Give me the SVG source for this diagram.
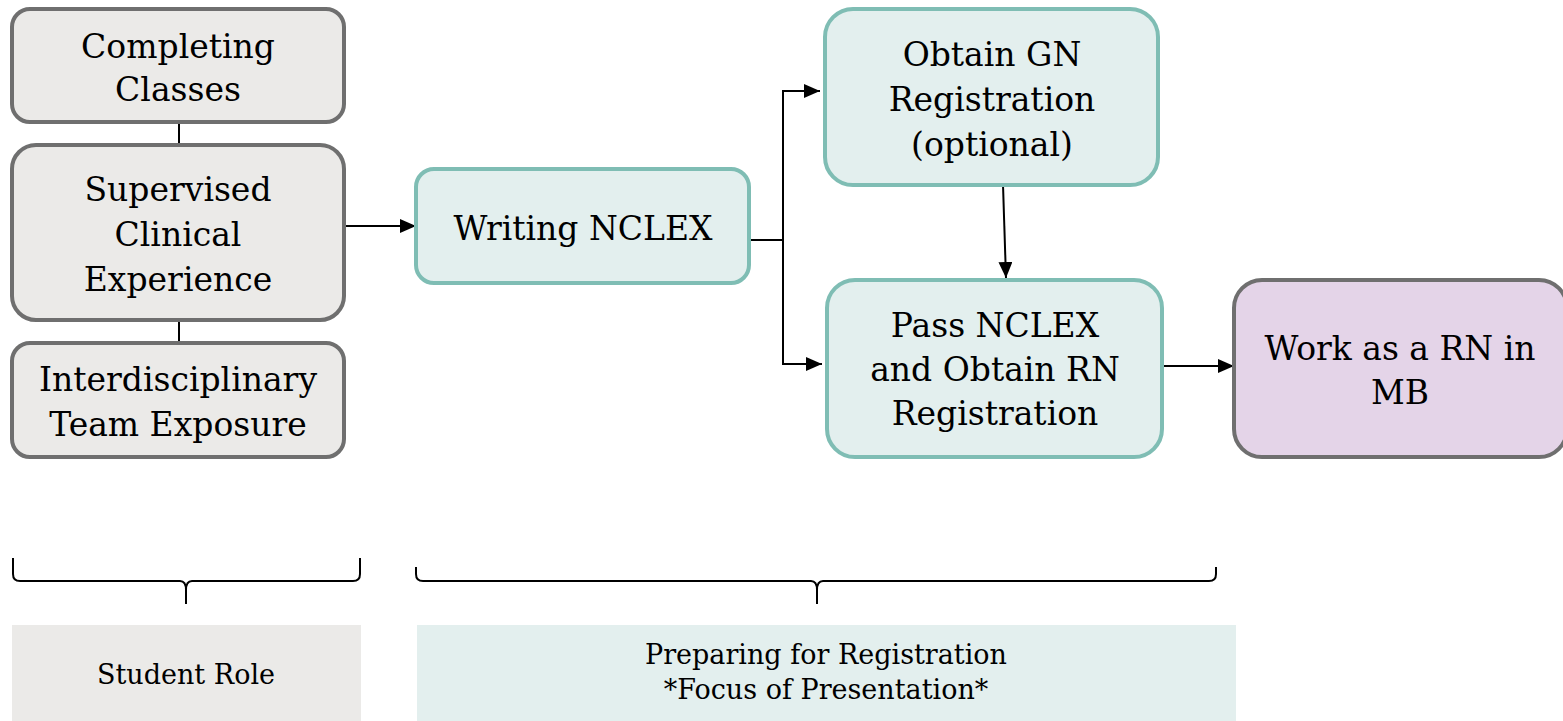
<svg xmlns="http://www.w3.org/2000/svg" width="1563" height="721" viewBox="0 0 1563 721">
<style>
.g rect{fill:#ebeae8;stroke:#6f6f6f;stroke-width:4}
.t rect{fill:#e3efee;stroke:#7fbdb4;stroke-width:4}
.p rect{fill:#e4d4e8;stroke:#6f6f6f;stroke-width:4}
text{font-family:"DejaVu Serif","Liberation Serif",serif;font-size:33px;fill:#000;text-anchor:middle}
.s text{font-size:27px}
.c{stroke:#000;stroke-width:2;fill:none}
</style>
<defs>
<marker id="a" viewBox="0 0 10 10" refX="10" refY="5" markerWidth="8" markerHeight="7" markerUnits="strokeWidth" orient="auto" preserveAspectRatio="none">
<path d="M0,0 L10,5 L0,10 Z" fill="#000"/>
</marker>
</defs>
<rect width="1563" height="721" fill="#fff"/>
<g id="connectors">
<line class="c" x1="179" y1="122" x2="179" y2="145"/>
<line class="c" x1="179" y1="320" x2="179" y2="343"/>
<line class="c" x1="344" y1="226" x2="416" y2="226" marker-end="url(#a)"/>
<path class="c" d="M749,240 H783 V91 H820" marker-end="url(#a)"/>
<path class="c" d="M783,240 V364 H822" marker-end="url(#a)"/>
<line class="c" x1="1003" y1="185" x2="1006" y2="278" marker-end="url(#a)"/>
<line class="c" x1="1162" y1="366" x2="1234" y2="366" marker-end="url(#a)"/>
</g>
<g id="n1" class="g"><rect x="12" y="9" width="332" height="113" rx="18"/><text x="178" y="58">Completing</text><text x="178" y="101">Classes</text></g>
<g id="n2" class="g"><rect x="12" y="145" width="332" height="175" rx="24"/><text x="178" y="201">Supervised</text><text x="178" y="246">Clinical</text><text x="178" y="291">Experience</text></g>
<g id="n3" class="g"><rect x="12" y="343" width="332" height="114" rx="18"/><text x="178" y="391">Interdisciplinary</text><text x="178" y="436">Team Exposure</text></g>
<g id="n4" class="t"><rect x="416" y="169" width="333" height="114" rx="18"/><text x="583" y="240">Writing NCLEX</text></g>
<g id="n5" class="t"><rect x="825" y="9" width="333" height="176" rx="28"/><text x="992" y="66">Obtain GN</text><text x="992" y="111">Registration</text><text x="992" y="156">(optional)</text></g>
<g id="n6" class="t"><rect x="827" y="280" width="335" height="177" rx="28"/><text x="995" y="337">Pass NCLEX</text><text x="995" y="381">and Obtain RN</text><text x="995" y="425">Registration</text></g>
<g id="n7" class="p"><rect x="1234" y="280" width="333" height="177" rx="28"/><text x="1400" y="360">Work as a RN in</text><text x="1400" y="404">MB</text></g>
<g id="braces" class="c">
<path d="M13,558 V574 Q13,581 20,581 H180 Q186,581 186,590 V604 M186,590 Q186,581 192,581 H353 Q360,581 360,574 V558"/>
<path d="M416,567 V574 Q416,581 423,581 H811 Q817,581 817,590 V604 M817,590 Q817,581 823,581 H1209 Q1216,581 1216,574 V567"/>
</g>
<g id="l1" class="s"><rect x="12" y="625" width="349" height="96" fill="#ebeae8"/><text x="186" y="684">Student Role</text></g>
<g id="l2" class="s"><rect x="417" y="625" width="819" height="96" fill="#e3efee"/><text x="826" y="664">Preparing for Registration</text><text x="826" y="699">*Focus of Presentation*</text></g>
</svg>
